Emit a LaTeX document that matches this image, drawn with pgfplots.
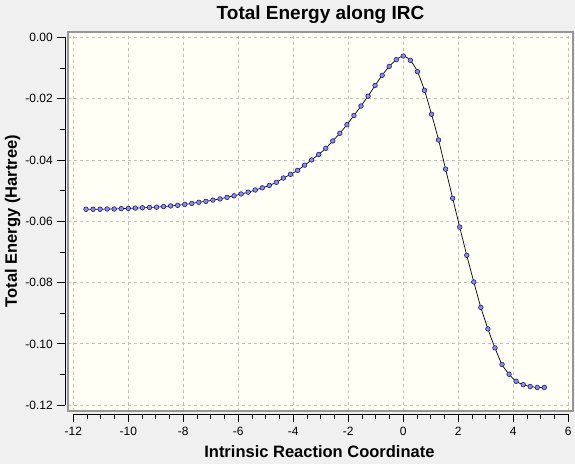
\documentclass[border=0pt]{standalone}
\usepackage{fontspec}
\setmainfont{Liberation Sans}
\usepackage{pgfplots}
\pgfplotsset{compat=1.18}
\usepackage{pgfplotstable}
\definecolor{bgc}{RGB}{240,240,240}
\definecolor{panelc}{RGB}{255,255,246}
\definecolor{gridc}{RGB}{192,192,192}
\definecolor{borderc}{RGB}{150,150,150}
\definecolor{mfill}{RGB}{140,140,230}
\definecolor{medge}{RGB}{30,30,130}

\pgfplotstableread{
x y
-11.538 -0.0561
-11.282 -0.0561
-11.025 -0.0561
-10.769 -0.0560
-10.512 -0.0560
-10.256 -0.0559
-10.000 -0.0558
-9.743 -0.0557
-9.487 -0.0556
-9.230 -0.0555
-8.974 -0.0554
-8.718 -0.0552
-8.461 -0.0550
-8.205 -0.0548
-7.948 -0.0545
-7.692 -0.0542
-7.436 -0.0538
-7.179 -0.0535
-6.923 -0.0531
-6.666 -0.0527
-6.410 -0.0522
-6.154 -0.0517
-5.897 -0.0511
-5.641 -0.0505
-5.384 -0.0498
-5.128 -0.0491
-4.872 -0.0483
-4.615 -0.0473
-4.359 -0.0459
-4.102 -0.0447
-3.846 -0.0434
-3.590 -0.0417
-3.333 -0.0400
-3.077 -0.0382
-2.820 -0.0362
-2.564 -0.0338
-2.308 -0.0313
-2.051 -0.0285
-1.795 -0.0255
-1.538 -0.0224
-1.282 -0.0192
-1.026 -0.0157
-0.769 -0.0124
-0.513 -0.0095
-0.256 -0.0073
0.000 -0.0061
0.256 -0.0075
0.513 -0.0112
0.769 -0.0173
1.026 -0.0251
1.282 -0.0335
1.538 -0.0430
1.795 -0.0525
2.051 -0.0619
2.308 -0.0711
2.564 -0.0798
2.820 -0.0881
3.077 -0.0951
3.333 -0.1013
3.590 -0.1067
3.846 -0.1099
4.102 -0.1122
4.359 -0.1133
4.615 -0.1139
4.872 -0.1142
5.128 -0.1142
}\irc

\begin{document}
\begin{tikzpicture}[x=1pt,y=1pt]
\fill[bgc] (0,0) rectangle (575,464);
\useasboundingbox (0,0) rectangle (575,464);

% panel with grid and data
\begin{axis}[
  at={(68pt,53pt)}, anchor=south west, scale only axis,
  width=505pt, height=379pt,
  xmin=-12.193, xmax=6.171, ymin=-0.12189, ymax=0.00173,
  axis background/.style={fill=panelc},
  axis line style={draw=borderc, line width=1.3pt},
  xtick={-12,-10,-8,-6,-4,-2,0,2,4,6},
  ytick={-0.12,-0.1,-0.08,-0.06,-0.04,-0.02,0},
  xticklabels={}, yticklabels={},
  major tick length=0pt, tick style={draw=none},
  grid=major,
  major grid style={gridc, dash pattern=on 3pt off 3pt, line width=0.8pt},
  every axis title shift=0pt,
  title={Total Energy along IRC},
  title style={font=\bfseries\fontsize{19}{19}\selectfont, at={(axis description cs:0.5,1.0317)}, anchor=base, inner sep=0pt},
  xlabel={Intrinsic Reaction Coordinate},
  xlabel style={font=\bfseries\fontsize{16.5}{16.5}\selectfont, at={(axis description cs:0.4978,-0.1232)}, anchor=base, inner sep=0pt},
  ylabel={Total Energy (Hartree)},
  ylabel style={font=\bfseries\fontsize{16.5}{16.5}\selectfont, at={(axis description cs:-0.101,0.5013)}, anchor=base, inner sep=0pt},
]
\addplot[black, line width=0.7pt, smooth, mark=*, mark size=2.3pt,
  mark options={fill=mfill, draw=medge, line width=0.6pt}] table {\irc};
\end{axis}

% x axis with ticks
\begin{axis}[
  at={(73.3pt,50pt)}, anchor=south west, scale only axis,
  width=495pt, height=100pt,
  xmin=-12, xmax=6, ymin=0, ymax=1,
  axis x line=bottom, axis y line=none,
  x axis line style={-, black, line width=0.8pt},
  xtick={-12,-10,-8,-6,-4,-2,0,2,4,6}, minor x tick num=3,
  tick align=outside, major tick length=8pt, minor tick length=5pt,
  tick style={black, line width=0.8pt},
  xticklabel style={font=\fontsize{12}{12}\selectfont, anchor=north, inner sep=0pt, yshift=-5pt},
  /pgf/number format/assume math mode=true,
]
\end{axis}

% y axis with ticks
\begin{axis}[
  at={(65pt,58.8pt)}, anchor=south west, scale only axis,
  width=100pt, height=367.9pt,
  xmin=0, xmax=1, ymin=-0.12, ymax=0,
  axis y line=left, axis x line=none,
  y axis line style={-, black, line width=0.8pt},
  ytick={-0.12,-0.1,-0.08,-0.06,-0.04,-0.02,0}, minor y tick num=1,
  tick align=outside, major tick length=8pt, minor tick length=5.5pt,
  tick style={black, line width=0.8pt},
  scaled y ticks=false,
  yticklabel style={font=\fontsize{12}{12}\selectfont, anchor=east, inner sep=0pt, xshift=-4pt,
    /pgf/number format/.cd, fixed, fixed zerofill, precision=2},
  /pgf/number format/assume math mode=true,
]
\end{axis}
\end{tikzpicture}
\end{document}
